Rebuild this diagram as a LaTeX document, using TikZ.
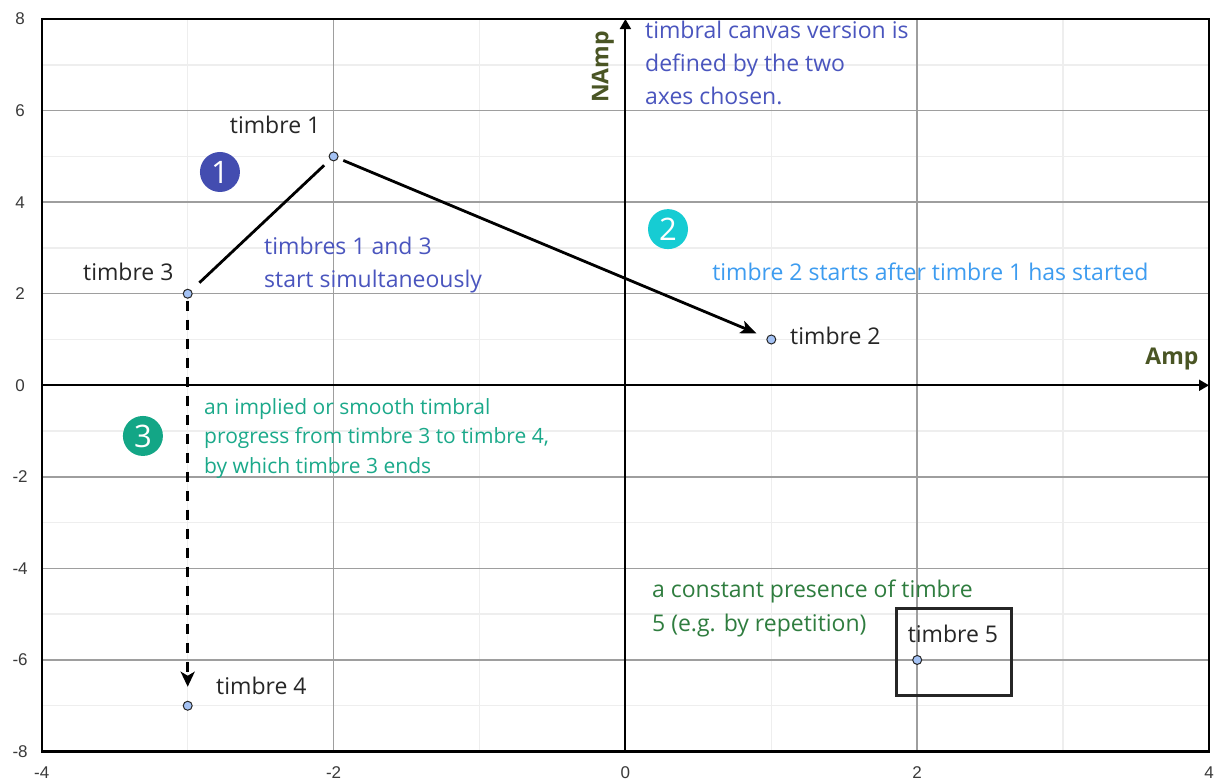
\documentclass[tikz,border=0pt]{standalone}
\usepackage{fontspec}
\setmainfont{Open Sans}
\newfontfamily\tickfont{Liberation Sans}
\usetikzlibrary{arrows.meta}
\definecolor{ptblue}{HTML}{A4C2F4}
\definecolor{indigotxt}{HTML}{4A55BE}
\definecolor{skytxt}{HTML}{3D9CF0}
\definecolor{tealtxt}{HTML}{1BA98A}
\definecolor{greentxt}{HTML}{2F7D3F}
\definecolor{olivetxt}{HTML}{4A5524}
\definecolor{majorgrid}{HTML}{9E9E9E}
\definecolor{minorgrid}{HTML}{EEEEEE}
\definecolor{badgeone}{HTML}{434DB0}
\definecolor{badgetwo}{HTML}{16CCD3}
\definecolor{badgethree}{HTML}{13A686}
\definecolor{ticktext}{HTML}{3A3A3A}
\begin{document}
\begin{tikzpicture}[x=145.9pt,y=45.78pt,
 pt/.style={circle,draw=black!85,fill=ptblue,line width=1pt,minimum size=9pt,inner sep=0pt},
 lbl/.style={text=black!85,font=\fontsize{23}{27}\selectfont,inner sep=0pt,anchor=base},
 note/.style={font=\fontsize{23}{33}\selectfont,align=left,inner sep=0pt,anchor=north west},
 badge/.style={circle,minimum size=40pt,inner sep=0pt,text=white,font=\fontsize{31}{32}\selectfont},
 ticklbl/.style={font=\tickfont\fontsize{17}{17}\selectfont,text=ticktext,inner sep=0pt},
 conn/.style={line width=2.8pt,black},
 axlabel/.style={font=\bfseries\fontsize{23}{27}\selectfont,text=olivetxt,inner sep=0pt},
 gridminor/.style={minorgrid,line width=1.5pt},
 gridmajor/.style={majorgrid,line width=1.5pt},
 axisline/.style={line width=2pt,black,-{Triangle[length=10pt,width=11pt]}}]
\useasboundingbox (-4.2866,8.416) rectangle (4.1028,-8.687);
\fill[white] (-4.2866,8.416) rectangle (4.1028,-8.687);
% grid
\foreach \x in {-3,-1,1,3} \draw[gridminor] (\x,-8) -- (\x,8);
\foreach \y in {-7,-5,...,7} \draw[gridminor] (-4,\y) -- (4,\y);
\foreach \x in {-2,2} \draw[gridmajor] (\x,-8) -- (\x,8);
\foreach \y in {-6,-4,-2,2,4,6} \draw[gridmajor] (-4,\y) -- (4,\y);
\draw[line width=2.2pt] (-4,-8) rectangle (4,8);
% axes
\draw[axisline] (-4,0) -- (4,0);
\draw[axisline] (0,-8) -- (0,8);
% tick labels
\foreach \y in {8,6,4,2,0,-2,-4,-6,-8} \node[ticklbl] (ty\y) at (-4.149,\y) {\y};
\foreach \x in {-4,-2,0,2,4} \node[ticklbl] (tx\x) at (\x,-8.469) {\x};
% axis labels
\node[axlabel] (amp) at (3.746,0.574) {Amp};
\node[axlabel,rotate=90] (namp) at (-0.1535,6.953) {NAmp};
% points
\node[pt] (t1) at (-2,5) {};
\node[pt] (t2) at (1,1) {};
\node[pt] (t3) at (-3,2) {};
\node[pt] (t4) at (-3,-7) {};
\node[pt] (t5) at (2,-6) {};
% point labels
\node[lbl] (l1) at (-2.401,5.505) {timbre 1};
\node[lbl] (l3) at (-3.407,2.278) {timbre 3};
\node[lbl,anchor=base west] (l2) at (1.128,0.880) {timbre 2};
\node[lbl,anchor=base west] (l4) at (-2.806,-6.765) {timbre 4};
\node[lbl] (l5) at (2.245,-5.629) {timbre 5};
% box around timbre 5
\node[draw=black!85,line width=3pt,minimum width=115pt,minimum height=87pt,inner sep=0pt] (box5) at (2.249,-5.837) {};
% badges
\node[badge,fill=badgeone] (b1) at (-2.779,4.659) {1};
\node[badge,fill=badgetwo] (b2) at (0.292,3.411) {2};
\node[badge,fill=badgethree] (b3) at (-3.307,-1.107) {3};
% notes
\node[note,text=indigotxt] (n0) at (0.134,7.958) {timbral canvas version is\\defined by the two\\axes chosen.};
\node[note,text=indigotxt] (n1) at (-2.477,3.24) {timbres 1 and 3\\start simultaneously};
\node[note,text=skytxt,anchor=base west] (n2) at (0.594,2.28) {timbre 2 starts after timbre 1 has started};
\node[note,text=tealtxt,font=\fontsize{21}{29.5}\selectfont] (n3) at (-2.888,-0.278) {an implied or smooth timbral\\progress from timbre 3 to timbre 4,\\by which timbre 3 ends};
\node[note,text=greentxt,font=\fontsize{23}{34}\selectfont] (n5) at (0.182,-4.25) {a constant presence of timbre\\5 (e.g. by repetition)};
% connectors
\draw[conn,shorten <=11pt,shorten >=8pt] (t3) -- (t1);
\draw[conn,shorten <=5.5pt,shorten >=11pt,-{Stealth[length=16pt,width=13pt,inset=4pt]}] (t1) -- (t2);
\draw[conn,line width=3pt,dash pattern=on 10pt off 9pt,shorten <=2pt,shorten >=14pt,-{Stealth[length=15pt,width=14pt,inset=4pt]}] (t3) -- (t4);
\end{tikzpicture}
\end{document}
